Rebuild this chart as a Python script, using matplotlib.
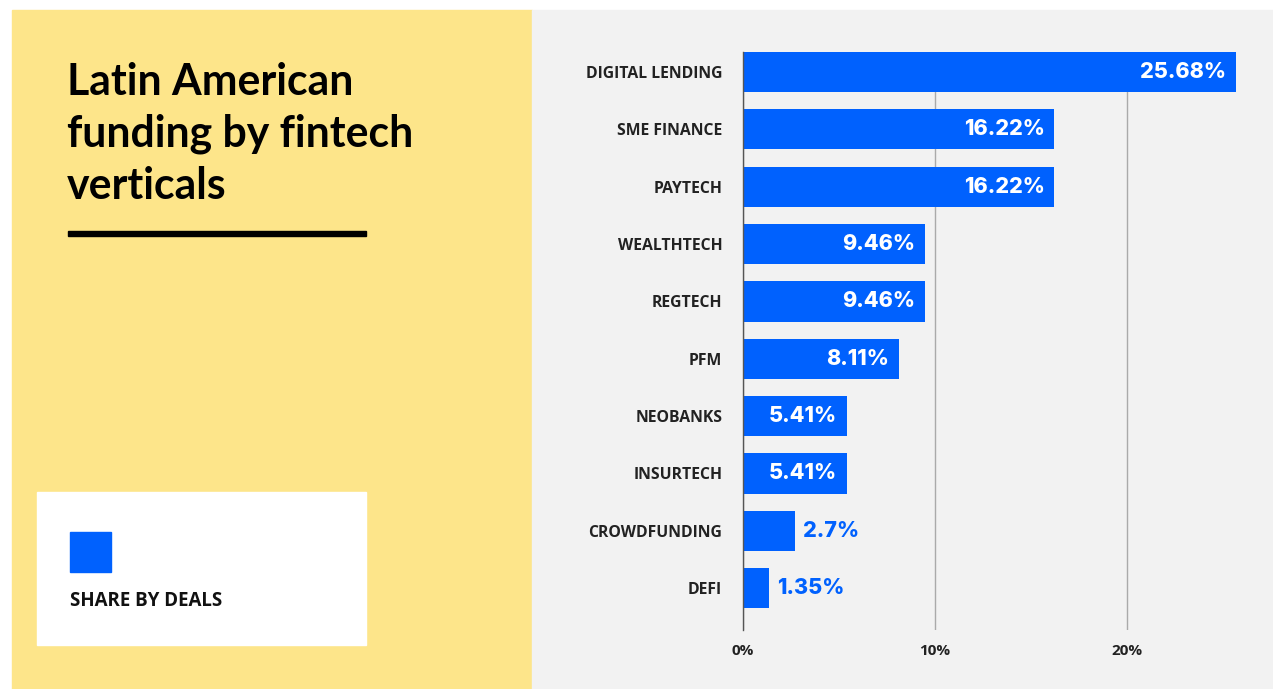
import matplotlib.pyplot as plt
from matplotlib.patches import Rectangle

categories = ["DIGITAL LENDING", "SME FINANCE", "PAYTECH", "WEALTHTECH", "REGTECH",
              "PFM", "NEOBANKS", "INSURTECH", "CROWDFUNDING", "DEFI"]
shares = [25.68, 16.22, 16.22, 9.46, 9.46, 8.11, 5.41, 5.41, 2.7, 1.35]
value_labels = ["25.68%", "16.22%", "16.22%", "9.46%", "9.46%",
                "8.11%", "5.41%", "5.41%", "2.7%", "1.35%"]
x_ticks = [0, 10, 20]
x_tick_labels = ["0%", "10%", "20%"]

BLUE = "#0061FE"
YELLOW = "#FDE58A"
GREY_BG = "#F2F2F2"

W, H = 1273, 689
fig = plt.figure(figsize=(W / 100, H / 100), dpi=100)
fig.patch.set_facecolor("white")


def px(x0, y0, x1, y1):
    # pixel box (top-left origin) -> figure fraction rect
    return [x0 / W, 1 - y1 / H, (x1 - x0) / W, (y1 - y0) / H]


def add_box(x0, y0, x1, y1, color, z):
    fig.patches.append(Rectangle((x0 / W, 1 - y1 / H), (x1 - x0) / W, (y1 - y0) / H,
                                 transform=fig.transFigure, color=color, zorder=z))


# background panels
add_box(12, 10, 532, H, YELLOW, -3)
add_box(532, 10, W, H, GREY_BG, -3)

# title block
fig.text(67 / W, 1 - 62 / H, "Latin American\nfunding by fintech\nverticals",
         ha="left", va="top", fontsize=30.8, fontweight="bold", family="Lato",
         color="black", linespacing=1.36)
add_box(68, 231, 366, 236, "black", -2)

# legend card
add_box(37, 492, 366, 645, "white", -2)
add_box(70, 532, 111, 572, BLUE, -1)
fig.text(70 / W, 1 - 601 / H, "SHARE BY DEALS", ha="left", va="center",
         fontsize=13.5, fontweight="bold", family="Open Sans", color="#111111")

# bar chart
ax = fig.add_axes(px(743, 52, 743 + 27 * 19.2, 630))
ax.set_zorder(5)
ax.set_facecolor("none")
ypos = list(range(len(categories)))
ax.barh(ypos, shares, height=0.7, color=BLUE, zorder=3)
ax.set_xlim(0, 27)
ax.set_ylim(9.73, -0.35)

ax.set_yticks(ypos)
ax.set_yticklabels(categories, fontsize=11.3, fontweight="bold",
                   family="Open Sans", color="#222222")
ax.set_xticks(x_ticks)
ax.set_xticklabels(x_tick_labels, fontsize=11, fontweight="bold",
                   family="Open Sans", color="#222222")
ax.tick_params(axis="both", length=0)
ax.tick_params(axis="y", pad=15)
ax.tick_params(axis="x", pad=10)

ax.grid(axis="x", color="#AAAAAA", linewidth=1, zorder=1)
ax.set_axisbelow(True)
for side in ["top", "right", "bottom"]:
    ax.spines[side].set_visible(False)
ax.spines["left"].set_color("#555555")
ax.spines["left"].set_linewidth(1)
ax.spines["left"].set_zorder(4)

for y, v, lab in zip(ypos, shares, value_labels):
    if v >= 5:
        ax.text(v - 0.5, y, lab, ha="right", va="center", color="white",
                fontsize=15.5, fontweight="heavy", family="Inter", zorder=5)
    else:
        ax.text(v + 0.45, y, lab, ha="left", va="center", color=BLUE,
                fontsize=15.5, fontweight="heavy", family="Inter", zorder=5)

fig.savefig("out.png", dpi=100, facecolor=fig.get_facecolor())
